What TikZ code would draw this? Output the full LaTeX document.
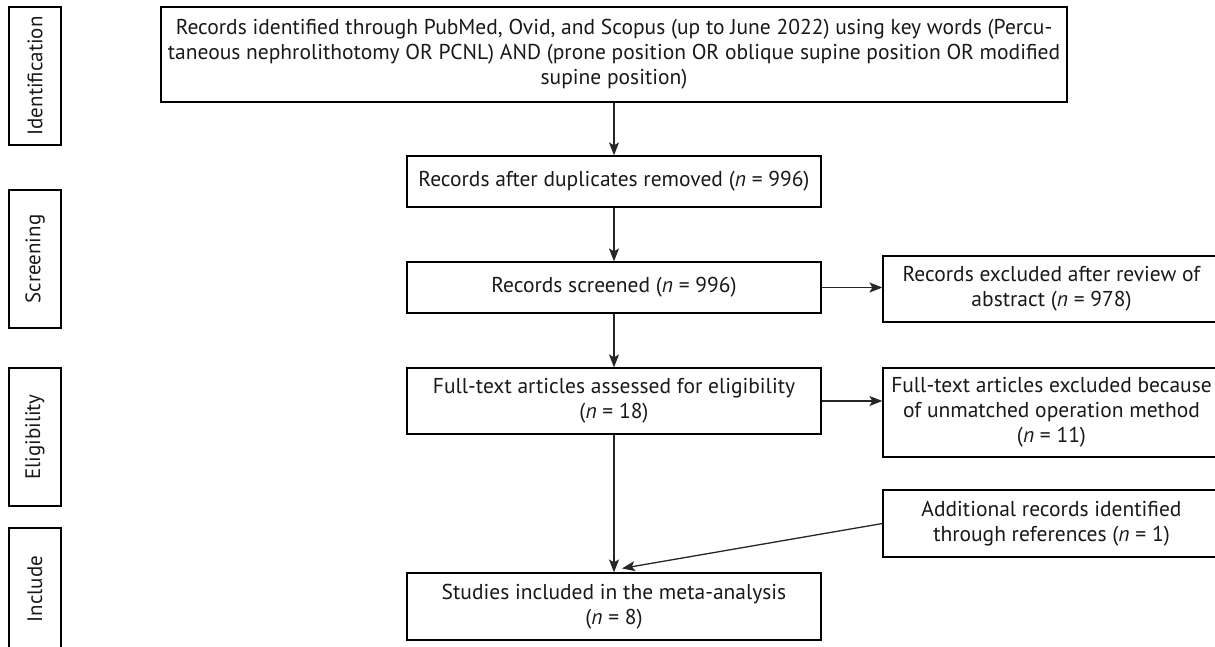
\documentclass[tikz,border=0pt]{standalone}
\usepackage{fontspec}
\setmainfont{PT Sans}
\usetikzlibrary{arrows.meta,calc}
\tikzset{
  box/.style={draw=black, line width=1.2pt, align=center, inner sep=0pt, font=\fontsize{21.5}{25}\selectfont, text=black!90},
  side/.style={draw=black, line width=1.2pt, inner sep=0pt, minimum width=52pt, minimum height=138pt},
  sidetext/.style={rotate=90, inner sep=0pt, font=\fontsize{21}{25}\selectfont, text=black!90},
  arr/.style={draw=black!85, line width=1.3pt, -{Stealth[length=13pt,width=10pt,inset=3pt]}}
}
\begin{document}
\begin{tikzpicture}[x=1pt,y=-1pt]
\useasboundingbox (0,0) rectangle (1215,646);
% side labels
\node[side] (sid) at (35,76) {};
\node[sidetext] (tid) at (sid.center) {Identification};
\node[side] (ssc) at (35,259) {};
\node[sidetext] (tsc) at (ssc.center) {Screening};
\node[side] (sel) at (35,437) {};
\node[sidetext] (tel) at (sel.center) {Eligibility};
\node[side] (sin) at (35,597) {};
\node[sidetext] (tin) at (35,589) {Include};
% main boxes
\node[box, minimum width=906pt, minimum height=95pt] (top) at (614,54.5)
  {Records identified through PubMed, Ovid, and Scopus (up to June 2022) using key words (Percu-\\
   taneous nephrolithotomy OR PCNL) AND (prone position OR oblique supine position OR modified\\
   supine position)};
\node[box, minimum width=414pt, minimum height=51pt] (dup) at (614,181.5)
  {Records after duplicates removed (\textit{n} = 996)};
\node[box, minimum width=414pt, minimum height=51pt] (scr) at (614,287.5)
  {Records screened (\textit{n} = 996)};
\node[box, minimum width=337pt, minimum height=66pt] (exc) at (1051.5,289)
  {Records excluded after review of\\ abstract (\textit{n} = 978)};
\node[box, minimum width=414pt, minimum height=66pt] (ful) at (614,401)
  {Full-text articles assessed for eligibility\\ (\textit{n} = 18)};
\node[box, minimum width=337pt, minimum height=89pt] (fex) at (1051.5,412.5)
  {Full-text articles excluded because\\ of unmatched operation method\\ (\textit{n} = 11)};
\node[box, minimum width=337pt, minimum height=67pt] (add) at (1051.5,523.5)
  {Additional records identified\\ through references (\textit{n} = 1)};
\node[box, minimum width=414pt, minimum height=67pt] (inc) at (614,606.5)
  {Studies included in the meta-analysis\\ (\textit{n} = 8)};
\coordinate (incin) at ($(inc.north)+(8,-4)$);
% connectors
\draw[arr] (top) -- (dup);
\draw[arr] (dup) -- (scr);
\draw[arr] (scr) -- (scr.east -| exc.west);
\draw[arr] (scr) -- (ful);
\draw[arr] (ful) -- (ful.east -| fex.west);
\draw[arr] (ful) -- (inc);
\draw[arr] (add.west) -- (incin);
\end{tikzpicture}
\end{document}
